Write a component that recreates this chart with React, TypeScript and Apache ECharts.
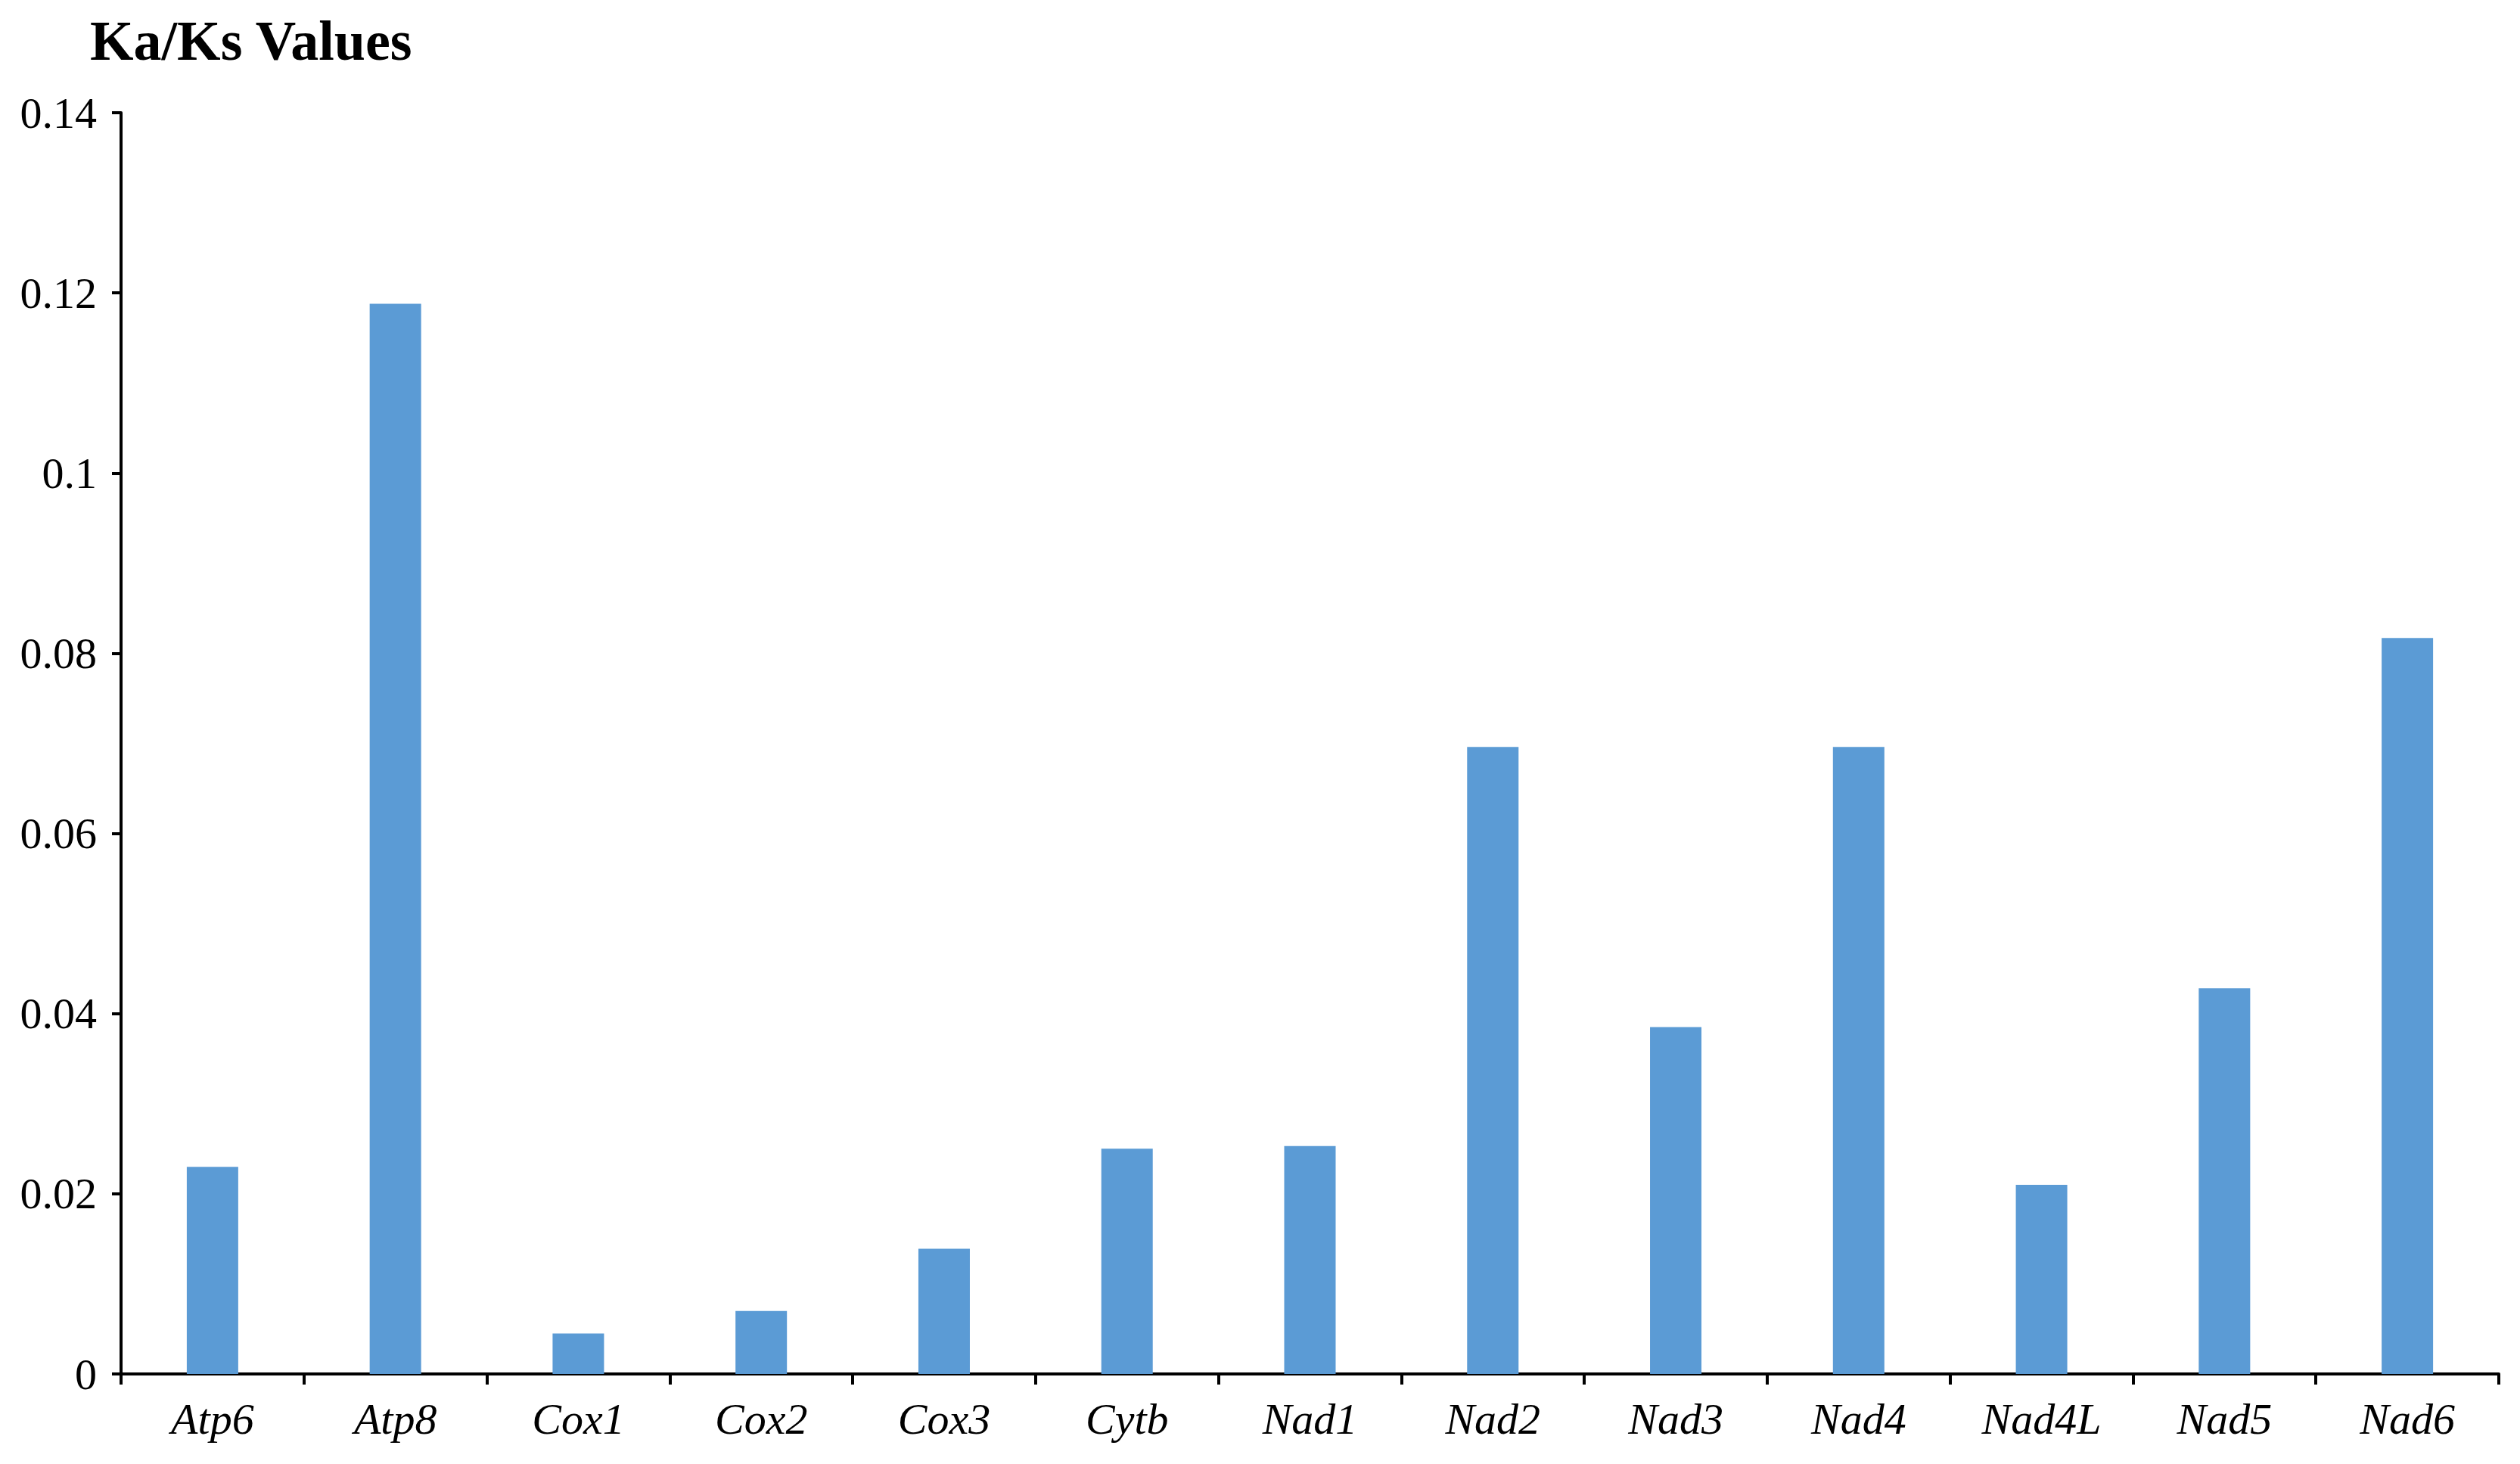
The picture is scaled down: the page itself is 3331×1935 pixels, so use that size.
import React, { useEffect, useRef } from "react";
import * as echarts from "echarts";

const categories = ["Atp6", "Atp8", "Cox1", "Cox2", "Cox3", "Cytb", "Nad1", "Nad2", "Nad3", "Nad4", "Nad4L", "Nad5", "Nad6"];
const kaKsValues = [0.023, 0.1188, 0.0045, 0.007, 0.0139, 0.025, 0.0253, 0.0696, 0.0385, 0.0696, 0.021, 0.0428, 0.0817];
const titleText = "Ka/Ks Values";

export default function App() {
  const ref = useRef<HTMLDivElement>(null);
  useEffect(() => {
    document.body.style.margin = "0";
    const chart = echarts.init(ref.current!, null, { renderer: "svg" });
    const font = "'Liberation Serif', 'Times New Roman', serif";
    chart.setOption({
      animation: false,
      backgroundColor: "#ffffff",
      title: {
        text: titleText,
        left: 114,
        top: 12,
        textStyle: { fontFamily: font, fontWeight: "bold", fontSize: 74, color: "#000" },
      },
      grid: { left: 160, right: 28, top: 149, bottom: 119, containLabel: false },
      xAxis: {
        type: "category",
        data: categories,
        axisLine: { show: true, lineStyle: { color: "#000", width: 4 } },
        axisTick: { show: true, length: 14, lineStyle: { color: "#000", width: 4 } },
        axisLabel: { fontFamily: font, fontStyle: "italic", fontSize: 58, color: "#000", margin: 30 },
      },
      yAxis: {
        type: "value",
        min: 0,
        max: 0.14,
        interval: 0.02,
        splitLine: { show: false },
        axisLine: { show: true, lineStyle: { color: "#000", width: 4 } },
        axisTick: { show: true, length: 12, lineStyle: { color: "#000", width: 4 } },
        axisLabel: { fontFamily: font, fontSize: 58, color: "#000", margin: 32 },
      },
      series: [
        {
          type: "bar",
          data: kaKsValues,
          barWidth: 68,
          itemStyle: { color: "#5B9BD5" },
        },
      ],
    });
    return () => chart.dispose();
  }, []);
  return <div ref={ref} style={{ width: 3331, height: 1935 }} />;
}
